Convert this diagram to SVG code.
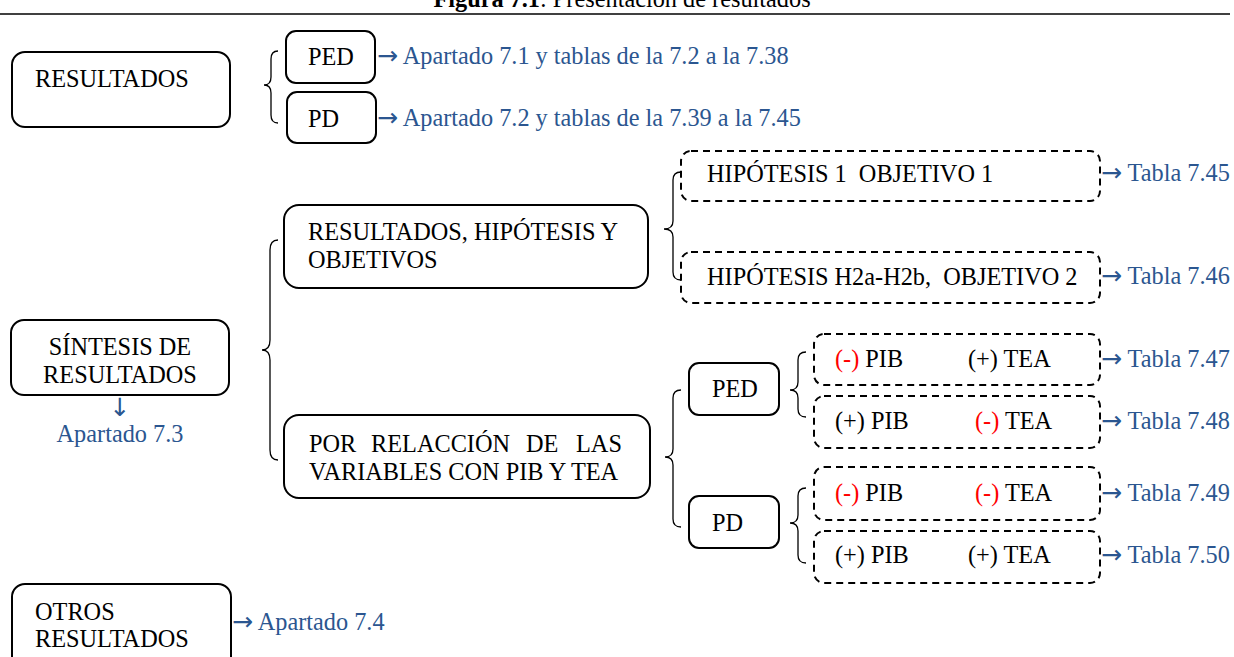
<svg xmlns="http://www.w3.org/2000/svg" width="1234" height="657" viewBox="0 0 1234 657">
<style>
text{font-family:"Liberation Serif","Times New Roman",serif;font-size:24.3px;fill:#000;white-space:pre}
.a{font-family:"DejaVu Sans",sans-serif;font-size:25px}
.b{fill:#fff;stroke:#000;stroke-width:2}
.d{fill:#fff;stroke:#000;stroke-width:2;stroke-dasharray:7 5}
.bl{fill:#2b5690}
.r{fill:#ff0000}
.br{fill:none;stroke:#000;stroke-width:1.3}
</style>
<g id="title">
<text x="622" y="7" text-anchor="middle"><tspan font-weight="bold">Figura 7.1</tspan>: Presentación de resultados</text>
<line x1="0" y1="14" x2="1230" y2="14" stroke="#000" stroke-width="1.6"/>
</g>
<g id="connectors">
<path class="br" d="M278,51 Q271,51 271,59 L271,77 Q271,85 264,85 Q271,85 271,93 L271,115 Q271,123 278,123"/>
<path class="br" d="M278,240 Q270,240 270,250 L270,340 Q270,350 262,350 Q270,350 270,360 L270,450 Q270,460 278,460"/>
<path class="br" d="M681,172 Q673,172 673,180 L673,221 Q673,229 664,229 Q673,229 673,237 L673,272 Q673,280 681,280"/>
<path class="br" d="M681,390 Q673,390 673,398 L673,449 Q673,457 665,457 Q673,457 673,465 L673,519 Q673,527 681,527"/>
<path class="br" d="M806,352 Q798,352 798,360 L798,382 Q798,390 790,390 Q798,390 798,398 L798,409 Q798,417 806,417"/>
<path class="br" d="M806,488 Q798,488 798,496 L798,515 Q798,523 790,523 Q798,523 798,531 L798,555 Q798,563 806,563"/>
</g>
<g id="resultados">
<rect class="b" x="12" y="52" width="218" height="75" rx="13"/>
<text x="35" y="87">RESULTADOS</text>
</g>
<g id="ped-top">
<rect class="b" x="286" y="31" width="89" height="52" rx="10"/>
<text x="308" y="65">PED</text>
<text class="bl" x="377" y="64"><tspan class="a">→</tspan> Apartado 7.1 y tablas de la 7.2 a la 7.38</text>
</g>
<g id="pd-top">
<rect class="b" x="287" y="92" width="89" height="51" rx="10"/>
<text x="308" y="127">PD</text>
<text class="bl" x="377" y="126"><tspan class="a">→</tspan> Apartado 7.2 y tablas de la 7.39 a la 7.45</text>
</g>
<g id="sintesis">
<rect class="b" x="11" y="320" width="218" height="75" rx="13"/>
<text x="120" y="355" text-anchor="middle">SÍNTESIS DE</text>
<text x="120" y="383" text-anchor="middle">RESULTADOS</text>
<text class="bl a" x="120" y="416" text-anchor="middle" font-size="23">↓</text>
<text class="bl" x="120" y="442" text-anchor="middle">Apartado 7.3</text>
</g>
<g id="rho">
<rect class="b" x="284" y="205" width="364" height="83" rx="15"/>
<text x="308" y="240">RESULTADOS, HIPÓTESIS Y</text>
<text x="308" y="268">OBJETIVOS</text>
</g>
<g id="relaccion">
<rect class="b" x="284" y="415" width="366" height="83" rx="15"/>
<text y="452"><tspan x="309">POR</tspan><tspan x="371">RELACCIÓN</tspan><tspan x="526">DE</tspan><tspan x="576">LAS</tspan></text>
<text x="309" y="480">VARIABLES CON PIB Y TEA</text>
</g>
<g id="hip1">
<rect class="d" x="681" y="151" width="419" height="50" rx="10"/>
<text x="707" y="182">HIPÓTESIS 1  OBJETIVO 1</text>
<text class="bl" x="1101" y="181"><tspan class="a">→</tspan> Tabla 7.45</text>
</g>
<g id="hip2">
<rect class="d" x="681" y="252" width="419" height="51" rx="10"/>
<text x="707" y="285">HIPÓTESIS H2a-H2b,  OBJETIVO 2</text>
<text class="bl" x="1101" y="284"><tspan class="a">→</tspan> Tabla 7.46</text>
</g>
<g id="ped">
<rect class="b" x="689" y="363" width="90" height="52" rx="10"/>
<text x="712" y="397">PED</text>
</g>
<g id="pd">
<rect class="b" x="689" y="496" width="90" height="52" rx="10"/>
<text x="712" y="531">PD</text>
</g>
<g id="c1">
<rect class="d" x="814" y="334" width="286" height="51" rx="10"/>
<text y="367"><tspan x="835" class="r">(-)</tspan> PIB</text>
<text x="968" y="367">(+) TEA</text>
<text class="bl" x="1101" y="367"><tspan class="a">→</tspan> Tabla 7.47</text>
</g>
<g id="c2">
<rect class="d" x="814" y="396" width="286" height="52" rx="10"/>
<text x="835" y="429">(+) PIB</text>
<text y="429"><tspan x="975" class="r">(-)</tspan> TEA</text>
<text class="bl" x="1101" y="429"><tspan class="a">→</tspan> Tabla 7.48</text>
</g>
<g id="c3">
<rect class="d" x="814" y="467" width="286" height="53" rx="10"/>
<text y="501"><tspan x="835" class="r">(-)</tspan> PIB</text>
<text y="501"><tspan x="975" class="r">(-)</tspan> TEA</text>
<text class="bl" x="1101" y="501"><tspan class="a">→</tspan> Tabla 7.49</text>
</g>
<g id="c4">
<rect class="d" x="814" y="531" width="286" height="52" rx="10"/>
<text x="835" y="563">(+) PIB</text>
<text x="968" y="563">(+) TEA</text>
<text class="bl" x="1101" y="563"><tspan class="a">→</tspan> Tabla 7.50</text>
</g>
<g id="otros">
<rect class="b" x="12" y="584" width="219" height="90" rx="13"/>
<text x="35" y="620">OTROS</text>
<text x="35" y="647">RESULTADOS</text>
<text class="bl" x="232" y="630"><tspan class="a">→</tspan> Apartado 7.4</text>
</g>
</svg>
